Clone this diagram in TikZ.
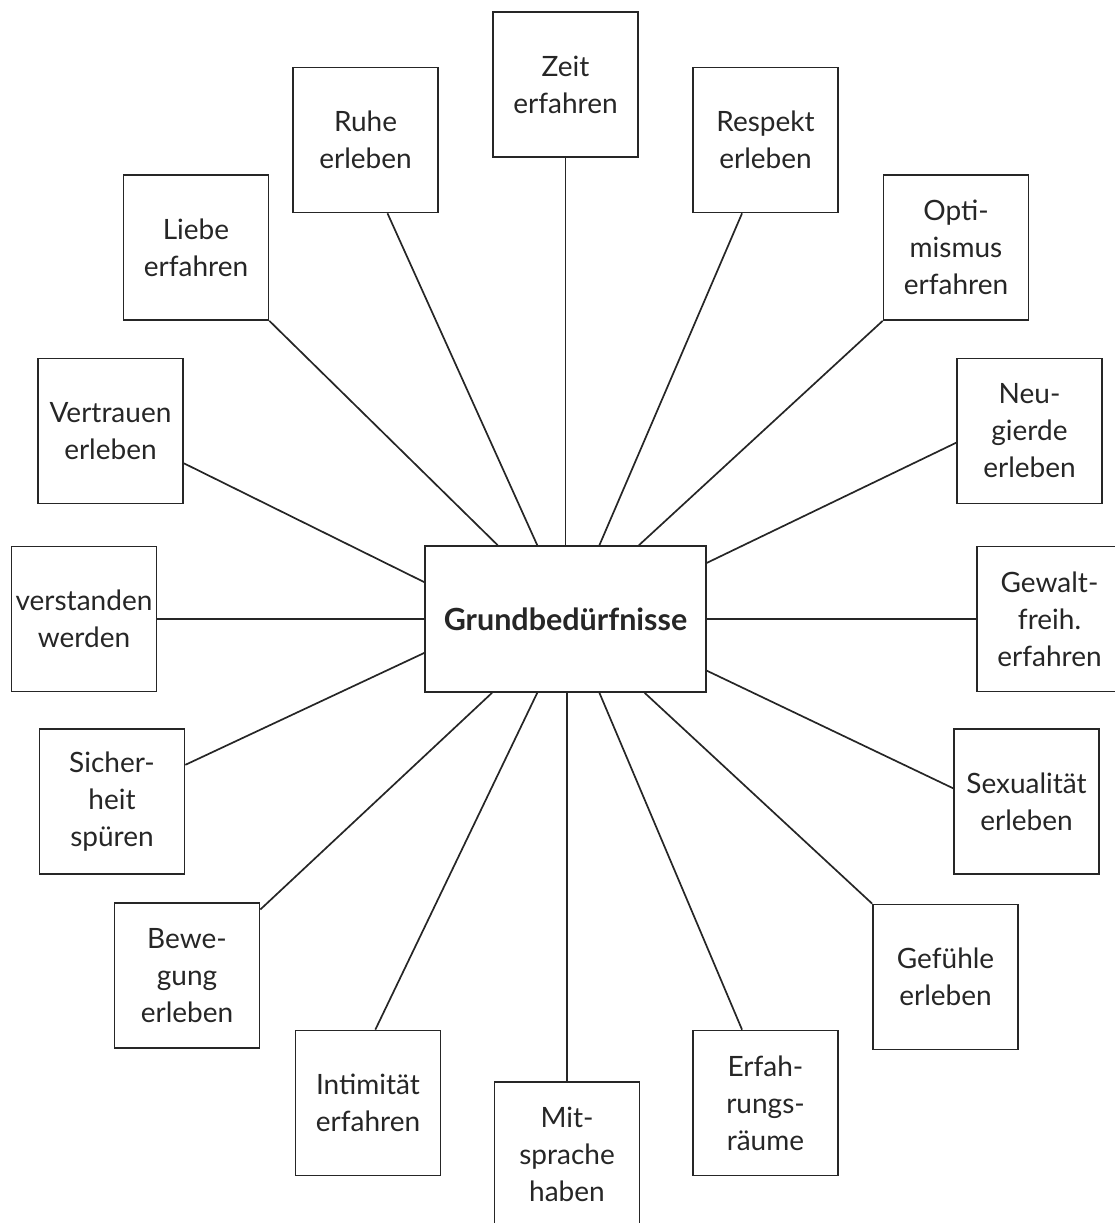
\documentclass[tikz,border=0pt]{standalone}
\usepackage{fontspec}
\setmainfont{Lato}
\usetikzlibrary{calc}
\begin{document}
\begin{tikzpicture}[
        x=1pt, y=-1pt,
        bx/.style = {draw, minimum width=145pt, minimum height=145pt, inner sep=0pt, align=center,
            font=\fontsize{28}{37}\selectfont},
        hub/.style = {draw, minimum width=281pt, minimum height=146pt, inner sep=0pt,
            font=\fontsize{30.5}{37}\selectfont\bfseries},
        line width=1.7pt, color=black!85
    ]
        \useasboundingbox (0,0) rectangle (1114,1223);
        % centre
        \node[hub] (gb) at (565.5,619) {Grundbedürfnisse};
        % boxes round it
        \node[bx] (zeit) at (565.5,84.5) {Zeit\\erfahren};
        \node[bx] (ruhe) at (365.5,140) {Ruhe\\erleben};
        \node[bx] (respekt) at (765.5,140) {Respekt\\erleben};
        \node[bx] (liebe) at (196,247.5) {Liebe\\erfahren};
        \node[bx] (opti) at (956,247.5) {Opti-\\mismus\\erfahren};
        \node[bx] (vertr) at (110.5,431) {Vertrauen\\erleben};
        \node[bx] (neug) at (1029.5,431) {Neu-\\gierde\\erleben};
        \node[bx] (verst) at (84,619) {verstanden\\werden};
        \node[bx] (gewalt) at (1049.5,619) {Gewalt-\\freih.\\erfahren};
        \node[bx] (sicher) at (112,801.5) {Sicher-\\heit\\spüren};
        \node[bx] (sex) at (1026.5,801.5) {Sexualität\\erleben};
        \node[bx] (beweg) at (187,975.5) {Bewe-\\gung\\erleben};
        \node[bx] (gefuehle) at (945.5,977) {Gefühle\\erleben};
        \node[bx] (intim) at (368,1103) {Intimität\\erfahren};
        \node[bx] (erfahr) at (765.5,1103) {Erfah-\\rungs-\\räume};
        \node[bx] (mitspr) at (567,1154.5) {Mit-\\sprache\\haben};
        % top edge
        \draw ($(gb.north west)!0.26!(gb.north east)$) -- (liebe.south east);
        \draw ($(gb.north west)!0.40!(gb.north east)$) -- ($(ruhe.south west)!0.65!(ruhe.south east)$);
        \draw (gb.north) -- (zeit.south);
        \draw ($(gb.north west)!0.62!(gb.north east)$) -- ($(respekt.south west)!0.34!(respekt.south east)$);
        \draw ($(gb.north west)!0.76!(gb.north east)$) -- (opti.south west);
        % sides
        \draw ($(gb.north west)!0.25!(gb.south west)$) -- ($(vertr.north east)!0.72!(vertr.south east)$);
        \draw (gb.west) -- (verst.east);
        \draw ($(gb.north west)!0.73!(gb.south west)$) -- ($(sicher.north east)!0.25!(sicher.south east)$);
        \draw ($(gb.north east)!0.12!(gb.south east)$) -- ($(neug.north west)!0.58!(neug.south west)$);
        \draw (gb.east) -- (gewalt.west);
        \draw ($(gb.north east)!0.85!(gb.south east)$) -- ($(sex.north west)!0.41!(sex.south west)$);
        % bottom edge
        \draw ($(gb.south west)!0.24!(gb.south east)$) -- ($(beweg.north east)!0.05!(beweg.south east)$);
        \draw ($(gb.south west)!0.40!(gb.south east)$) -- ($(intim.north west)!0.55!(intim.north east)$);
        \draw ($(gb.south west)!0.505!(gb.south east)$) -- (mitspr.north);
        \draw ($(gb.south west)!0.62!(gb.south east)$) -- ($(erfahr.north west)!0.34!(erfahr.north east)$);
        \draw ($(gb.south west)!0.78!(gb.south east)$) -- (gefuehle.north west);
\end{tikzpicture}
\end{document}
